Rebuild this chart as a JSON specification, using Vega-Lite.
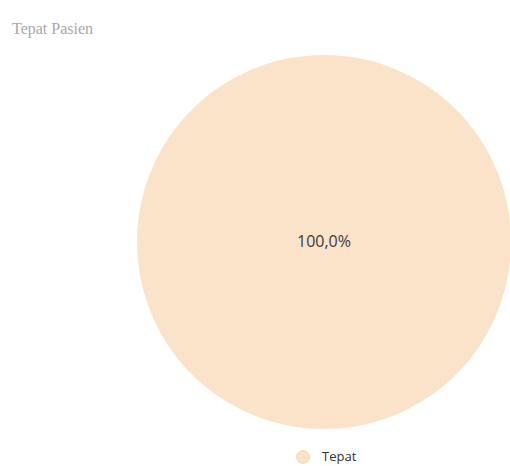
{
  "$schema": "https://vega.github.io/schema/vega-lite/v6.json",
  "autosize": {"type": "none"},
  "width": 374,
  "height": 374,
  "padding": {"left": 137, "top": 55, "right": -1, "bottom": 37},
  "background": "white",
  "title": {
    "text": "Tepat Pasien",
    "anchor": "start",
    "frame": "group",
    "dx": -125,
    "offset": 18,
    "font": "Liberation Serif",
    "fontSize": 16,
    "fontWeight": "normal",
    "color": "#a8a8a8"
  },
  "data": {"values": [{"kategori": "Tepat", "nilai": 100, "label": "100,0%"}]},
  "encoding": {
    "theta": {"field": "nilai", "type": "quantitative", "stack": true},
    "color": {
      "field": "kategori",
      "type": "nominal",
      "scale": {"domain": ["Tepat"], "range": ["#fbe3ca"]},
      "legend": {
        "title": null,
        "orient": "none",
        "legendX": 159,
        "legendY": 395,
        "direction": "horizontal",
        "symbolType": "circle",
        "symbolSize": 160,
        "symbolStrokeColor": "#f7cfa3",
        "symbolStrokeWidth": 1,
        "labelFont": "Open Sans",
        "labelFontSize": 13,
        "labelColor": "#333333",
        "labelOffset": 12
      }
    }
  },
  "layer": [
    {"mark": {"type": "arc", "stroke": null}},
    {
      "mark": {"type": "text", "radius": 0, "font": "Open Sans", "fontSize": 16, "color": "#3a3a3a"},
      "encoding": {"text": {"field": "label", "type": "nominal"}, "color": {"value": "#3a3a3a"}}
    }
  ]
}
